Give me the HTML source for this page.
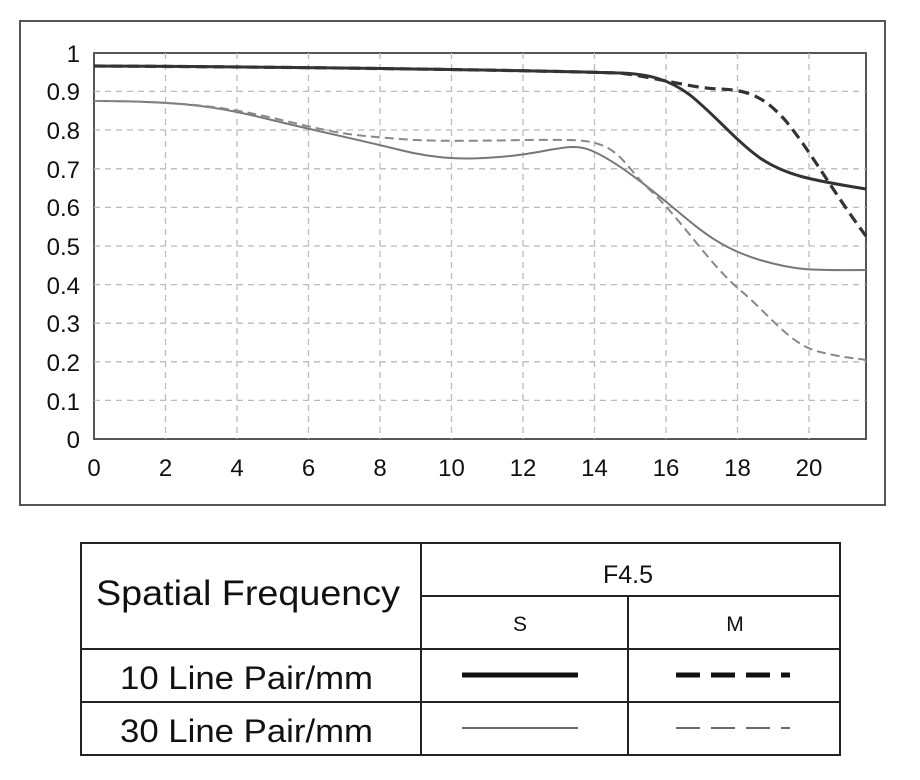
<!DOCTYPE html>
<html><head><meta charset="utf-8"><style>
html,body{margin:0;padding:0;background:#fff;width:920px;height:780px;overflow:hidden}
svg{display:block}
text{font-family:"Liberation Sans",sans-serif;fill:#111}
</style></head><body>
<svg width="920" height="780" viewBox="0 0 920 780" xmlns="http://www.w3.org/2000/svg">
<rect x="20" y="21" width="865" height="484" fill="none" stroke="#555" stroke-width="2"/>
<rect x="94" y="53" width="772" height="386" fill="#fff" stroke="#555" stroke-width="2"/>
<g stroke="#bbb" stroke-width="1.3" stroke-dasharray="6,5">
<line x1="94" y1="91.4" x2="866" y2="91.4"/><line x1="94" y1="130" x2="866" y2="130"/>
<line x1="94" y1="168.8" x2="866" y2="168.8"/><line x1="94" y1="207.4" x2="866" y2="207.4"/>
<line x1="94" y1="246" x2="866" y2="246"/><line x1="94" y1="284.6" x2="866" y2="284.6"/>
<line x1="94" y1="323.2" x2="866" y2="323.2"/><line x1="94" y1="361.8" x2="866" y2="361.8"/>
<line x1="94" y1="400.4" x2="866" y2="400.4"/>
<line x1="165.5" y1="53" x2="165.5" y2="439"/><line x1="237" y1="53" x2="237" y2="439"/>
<line x1="308.5" y1="53" x2="308.5" y2="439"/><line x1="380" y1="53" x2="380" y2="439"/>
<line x1="451.5" y1="53" x2="451.5" y2="439"/><line x1="523" y1="53" x2="523" y2="439"/>
<line x1="594.5" y1="53" x2="594.5" y2="439"/><line x1="666" y1="53" x2="666" y2="439"/>
<line x1="737.5" y1="53" x2="737.5" y2="439"/><line x1="809" y1="53" x2="809" y2="439"/>
</g>
<g font-size="24" text-anchor="end">
<text x="80" y="62">1</text><text x="80" y="100">0.9</text><text x="80" y="139">0.8</text>
<text x="80" y="178">0.7</text><text x="80" y="216">0.6</text><text x="80" y="255">0.5</text>
<text x="80" y="294">0.4</text><text x="80" y="332">0.3</text><text x="80" y="371">0.2</text>
<text x="80" y="410">0.1</text><text x="80" y="448">0</text>
</g>
<g font-size="24" text-anchor="middle">
<text x="94" y="476">0</text><text x="165.5" y="476">2</text><text x="237" y="476">4</text>
<text x="308.5" y="476">6</text><text x="380" y="476">8</text><text x="451.5" y="476">10</text>
<text x="523" y="476">12</text><text x="594.5" y="476">14</text><text x="666" y="476">16</text>
<text x="737.5" y="476">18</text><text x="809" y="476">20</text>
</g>
<g fill="none" stroke-linejoin="round" stroke-linecap="butt">
<path d="M94,101 C200,101 230,110 280,122 S360,140 400,150 S470,160 510,156 S570,142 590,150 S640,180 670,205 S720,248 760,260 S820,270 866,270" stroke="#777" stroke-width="2"/>
<path d="M94,101 C200,101 240,110 290,122 S350,135 400,139 S520,139 570,140 S620,162 650,190 S710,265 740,290 S790,345 820,352 S855,358 866,360" stroke="#888" stroke-width="2" stroke-dasharray="9,5"/>
<path d="M94,66 C300,67 520,70 620,73 C650,74 670,80 690,95 C715,115 735,140 760,158 C785,175 810,180 866,189" stroke="#333" stroke-width="3"/>
<path d="M94,66 C300,67 520,70 620,73 C660,78 690,88 720,89 C750,90 765,98 785,120 C810,150 835,195 866,236" stroke="#333" stroke-width="3.2" stroke-dasharray="11,6"/>
</g>
<g stroke="#222" stroke-width="2" fill="none">
<rect x="81" y="543" width="759" height="212"/>
<line x1="421" y1="543" x2="421" y2="755"/>
<line x1="628" y1="596" x2="628" y2="755"/>
<line x1="421" y1="596" x2="840" y2="596"/>
<line x1="81" y1="649" x2="840" y2="649"/>
<line x1="81" y1="702" x2="840" y2="702"/>
</g>
<text x="96" y="605" font-size="35" textLength="304" lengthAdjust="spacingAndGlyphs">Spatial Frequency</text>
<text x="628" y="583" font-size="25" text-anchor="middle">F4.5</text>
<text x="520" y="631" font-size="21" text-anchor="middle">S</text>
<text x="735" y="631" font-size="21" text-anchor="middle">M</text>
<text x="120" y="689" font-size="32" textLength="253" lengthAdjust="spacingAndGlyphs">10 Line Pair/mm</text>
<text x="120" y="742" font-size="32" textLength="253" lengthAdjust="spacingAndGlyphs">30 Line Pair/mm</text>
<line x1="462" y1="675" x2="578" y2="675" stroke="#111" stroke-width="5"/>
<line x1="676" y1="675" x2="790" y2="675" stroke="#111" stroke-width="5" stroke-dasharray="24,11"/>
<line x1="462" y1="728" x2="578" y2="728" stroke="#111" stroke-width="1.3"/>
<line x1="676" y1="728" x2="790" y2="728" stroke="#111" stroke-width="1.3" stroke-dasharray="24,11"/>
</svg>
</body></html>
